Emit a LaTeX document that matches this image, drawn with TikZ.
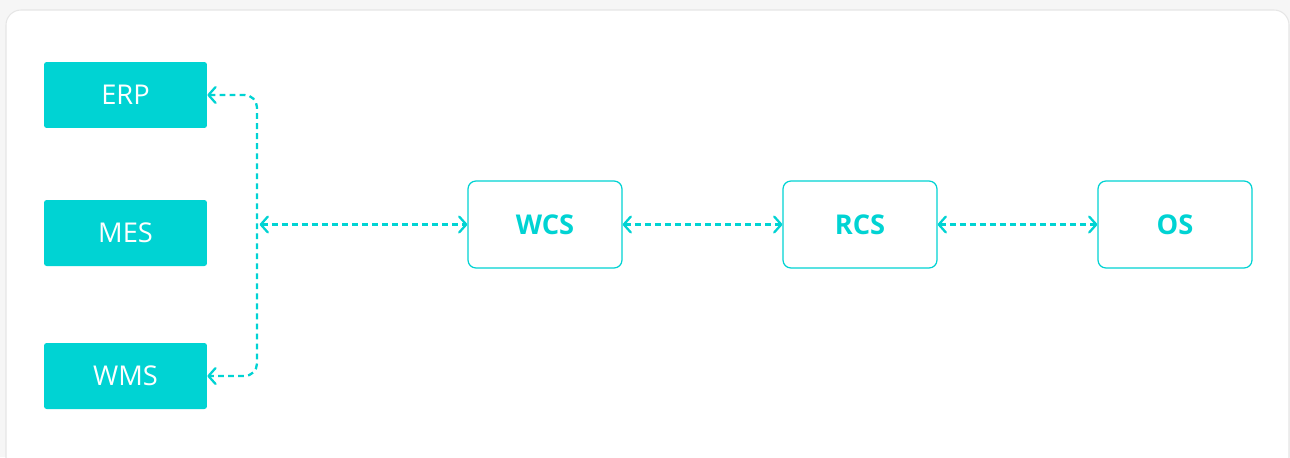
\documentclass[tikz,border=0pt]{standalone}
\usepackage{fontspec}
\setmainfont{Open Sans}
\usetikzlibrary{arrows.meta}
\definecolor{aqua}{HTML}{00D3D3}
\definecolor{panelline}{HTML}{E6E6E6}
\definecolor{pagebg}{HTML}{F6F6F6}

\begin{document}
\begin{tikzpicture}[x=0.02cm, y=-0.02cm,
	solid box/.style={fill=aqua, text=white, rounded corners=1.5pt,
		minimum width=3.26cm, minimum height=1.32cm, font=\fontsize{15.5}{18}\selectfont},
	open box/.style={draw=aqua, line width=0.7pt, text=aqua, rounded corners=4.5pt,
		minimum width=3.08cm, minimum height=1.74cm, font=\fontsize{15.5}{18}\selectfont\bfseries},
	link/.style={draw=aqua, line width=1.3pt, dash pattern=on 3.3pt off 2.4pt,
		{Straight Barb[length=4pt,width=9pt,line width=1.3pt,round]}-{Straight Barb[length=4pt,width=9pt,line width=1.3pt,round]}}]
	\useasboundingbox (0,0) rectangle (1290,457);
	% page and panel
	\fill[pagebg] (0,0) rectangle (1290,457);
	\draw[panelline, fill=white, line width=0.6pt, rounded corners=0.3cm] (6,10) rectangle (1289,475);

	\node[solid box] (erp) at (125.5,95) {ERP};
	\node[solid box] (mes) at (125.5,233) {MES};
	\node[solid box] (wms) at (125.5,376) {WMS};
	\node[open box] (wcs) at (545,224.5) {WCS};
	\node[open box] (rcs) at (860,224.5) {RCS};
	\node[open box] (os) at (1175,224.5) {OS};
	\coordinate (bus) at (257,224.5);

	\draw[link, rounded corners=0.25cm] (erp.east) -| (bus |- wms.east) -- (wms.east);
	\path [every edge/.append style={link}]
	(bus) edge[shorten <=1.5pt] (wcs.west)
	(wcs) edge (rcs)
	(rcs) edge (os);
\end{tikzpicture}
\end{document}
